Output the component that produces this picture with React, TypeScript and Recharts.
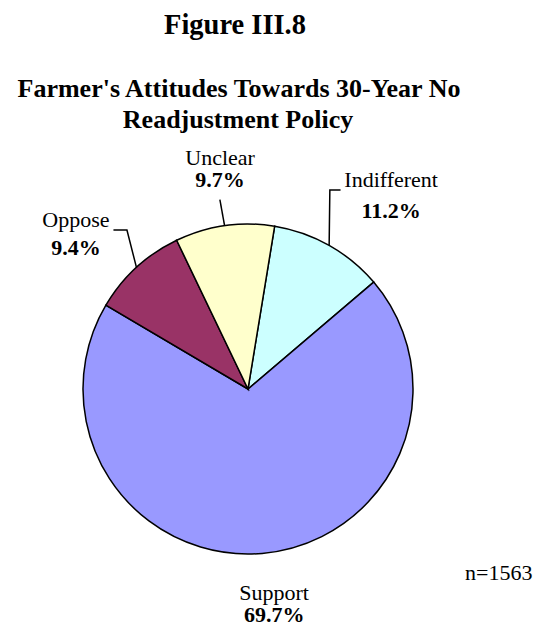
import React from 'react';
import { PieChart, Pie, Cell } from 'recharts';

// categories, clockwise from just right of 12 o'clock
const categories = ['Indifferent', 'Support', 'Oppose', 'Unclear'];
const shares = [11.2, 69.7, 9.4, 9.7];
const sliceColors = ['#CCFFFF', '#9999FF', '#993366', '#FFFFCC'];

const titleLines = ["Farmer's Attitudes Towards 30-Year No", 'Readjustment Policy'];
const figureLabel = 'Figure III.8';
const sampleNote = 'n=1563';

const data = categories.map((name, i) => ({ name, value: shares[i] }));

// label block offsets relative to the point where the slice's mid-angle meets the rim
type Layout = { dx: number; nameDy: number; pctDy: number; leader: [number, number][] };
const labelLayout: Record<string, Layout> = {
  Indifferent: { dx: 62, nameDy: -58, pctDy: -27, leader: [[0.7, -55.4], [11.4, -55.4]] },
  Support: { dx: 12, nameDy: 46.6, pctDy: 68.3, leader: [] },
  Oppose: { dx: -60.5, nameDy: -40, pctDy: -12.4, leader: [[-9.5, -37.4], [-23, -37.4]] },
  Unclear: { dx: -4.5, nameDy: -60.6, pctDy: -39, leader: [[-4.7, -26]] },
};

const FONT = '"Liberation Serif", "Times New Roman", serif';
const RADIAN = Math.PI / 180;

function SliceLabel(props: any) {
  const { cx, cy, midAngle, outerRadius, name, value } = props;
  const ex = cx + outerRadius * Math.cos(-midAngle * RADIAN);
  const ey = cy + outerRadius * Math.sin(-midAngle * RADIAN);
  const l = labelLayout[name];
  if (!l) return null;
  const pts = [[0, 0], ...l.leader].map(([x, y]) => `${ex + x},${ey + y}`).join(' ');
  return (
    <g>
      {l.leader.length > 0 && (
        <polyline points={pts} fill="none" stroke="#000" strokeWidth={1.5} />
      )}
      <text x={ex + l.dx} y={ey + l.nameDy} textAnchor="middle" fontFamily={FONT} fontSize={22} fill="#000">
        {name}
      </text>
      <text
        x={ex + l.dx}
        y={ey + l.pctDy}
        textAnchor="middle"
        fontFamily={FONT}
        fontSize={22}
        fontWeight="bold"
        fill="#000"
      >
        {`${Number(value).toFixed(1)}%`}
      </text>
    </g>
  );
}

export default function App() {
  return (
    <div style={{ position: 'absolute', left: 0, top: 0, width: 539, height: 627, background: '#fff' }}>
      <PieChart width={539} height={627} margin={{ top: 0, right: 0, bottom: 0, left: 0 }}>
        <Pie
          data={data}
          dataKey="value"
          nameKey="name"
          cx={248}
          cy={389}
          outerRadius={165}
          startAngle={80.7}
          endAngle={-279.3}
          stroke="#000"
          strokeWidth={1.5}
          label={SliceLabel}
          labelLine={false}
          isAnimationActive={false}
        >
          {data.map((d, i) => (
            <Cell key={d.name} fill={sliceColors[i]} />
          ))}
        </Pie>
      </PieChart>
      <svg
        width={539}
        height={627}
        style={{ position: 'absolute', left: 0, top: 0, pointerEvents: 'none' }}
      >
        <text x={235} y={34} textAnchor="middle" fontFamily={FONT} fontSize={28.5} fontWeight="bold">
          {figureLabel}
        </text>
        <text x={239} y={97} textAnchor="middle" fontFamily={FONT} fontSize={26} fontWeight="bold">
          {titleLines[0]}
        </text>
        <text x={238} y={128} textAnchor="middle" fontFamily={FONT} fontSize={26} fontWeight="bold">
          {titleLines[1]}
        </text>
        <text x={465} y={580} fontFamily={FONT} fontSize={22}>
          {sampleNote}
        </text>
      </svg>
    </div>
  );
}
